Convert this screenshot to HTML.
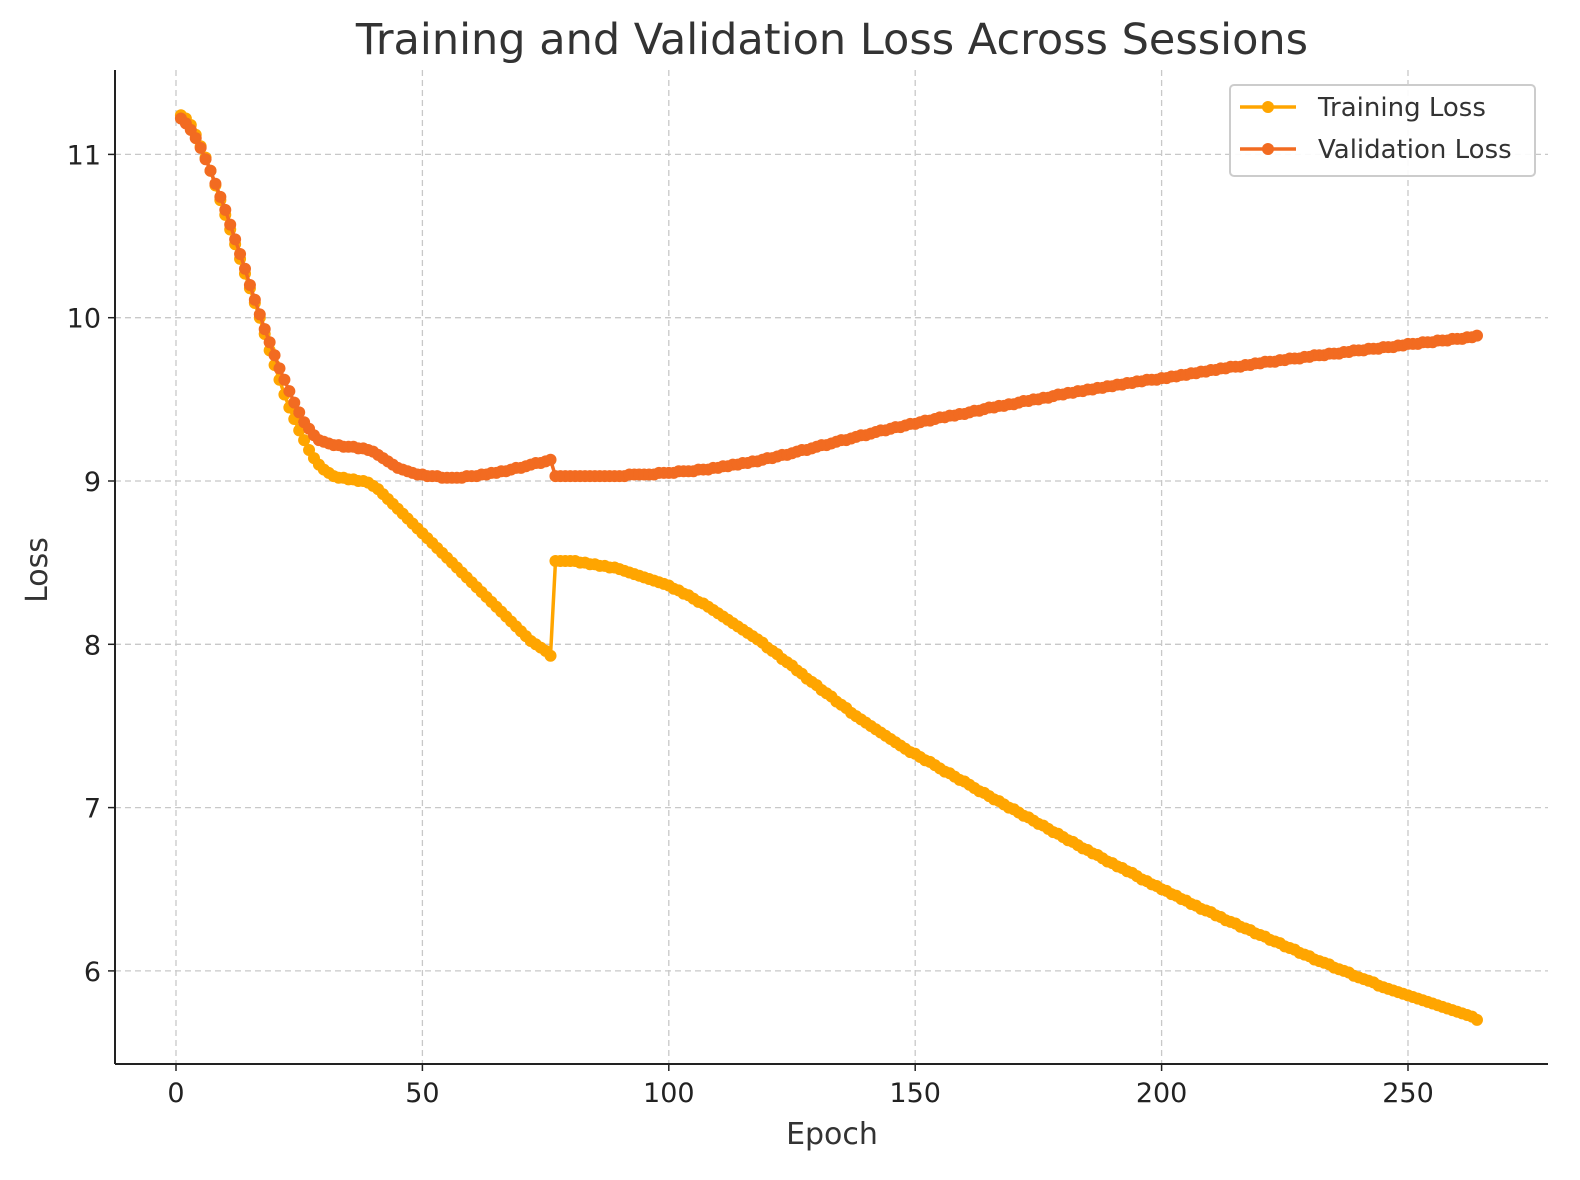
<!DOCTYPE html>
<html><head><meta charset="utf-8"><style>
html,body{margin:0;padding:0;background:#fff;}
svg{display:block;font-family:"DejaVu Sans","Liberation Sans",sans-serif;}
</style></head><body>
<svg id="chart" width="1580" height="1180" viewBox="0 0 1580 1180" xmlns="http://www.w3.org/2000/svg">
<rect width="1580" height="1180" fill="#fff"/>
<text x="832" y="54" text-anchor="middle" font-size="43" fill="#333">Training and Validation Loss Across Sessions</text>
<g id="grid"></g>
<g id="series"></g>
<g id="axes"></g>
<text x="832" y="1144" text-anchor="middle" font-size="30" fill="#333">Epoch</text>
<text transform="translate(47,570) rotate(-90)" text-anchor="middle" font-size="30" fill="#333">Loss</text>
<g>
<rect x="1230" y="85" width="305" height="91" rx="4" fill="#fff" fill-opacity="0.9" stroke="#ccc" stroke-width="2"/>
<g>
<line x1="1240" y1="107" x2="1296" y2="107" stroke="#FFA500" stroke-width="3.5"/>
<circle cx="1268" cy="107" r="6" fill="#FFA500"/>
<text x="1318" y="116" font-size="26" fill="#333">Training Loss</text></g>
<g>
<line x1="1240" y1="149" x2="1296" y2="149" stroke="#F26B21" stroke-width="3.5"/>
<circle cx="1268" cy="149" r="6" fill="#F26B21"/>
<text x="1318" y="158" font-size="26" fill="#333">Validation Loss</text></g>
</g>
</svg>
<script>
const xTicks=[0,50,100,150,200,250];
const yTicks=[6,7,8,9,10,11];
const trainLoss=[
11.24,11.22,11.18,11.12,11.05,10.98,10.9,10.81,10.72,10.63,
10.54,10.45,10.36,10.27,10.18,10.09,10.0,9.9,9.8,9.71,
9.62,9.53,9.45,9.38,9.31,9.25,9.19,9.14,9.1,9.07,
9.05,9.03,9.02,9.02,9.01,9.01,9.0,9.0,8.99,8.97,
8.95,8.92,8.89,8.86,8.83,8.8,8.77,8.74,8.71,8.68,
8.65,8.62,8.59,8.56,8.53,8.5,8.47,8.44,8.41,8.38,
8.35,8.32,8.29,8.26,8.23,8.2,8.17,8.14,8.11,8.08,
8.05,8.02,8.0,7.98,7.96,7.93,
8.51,8.51,8.51,8.51,8.51,8.5,8.5,8.49,8.49,8.48,
8.48,8.47,8.47,8.46,8.45,8.44,8.43,8.42,8.41,8.4,
8.39,8.38,8.37,8.36,8.34,8.33,8.31,8.3,8.28,8.26,
8.25,8.23,8.21,8.19,8.17,8.15,8.13,8.11,8.09,8.07,
8.05,8.03,8.01,7.98,7.96,7.94,7.91,7.89,7.87,7.84,
7.82,7.79,7.77,7.75,7.72,7.7,7.68,7.65,7.63,7.61,
7.58,7.56,7.54,7.52,7.5,7.48,7.46,7.44,7.42,7.4,
7.38,7.36,7.34,7.33,
7.31,7.29,7.28,7.26,7.24,7.22,7.21,7.19,7.17,7.16,
7.14,7.12,7.1,7.09,7.07,7.05,7.04,7.02,7.0,6.99,
6.97,6.95,6.94,6.92,6.9,6.89,6.87,6.85,6.84,6.82,
6.8,6.79,6.77,6.75,6.74,6.72,6.71,6.69,6.67,6.66,
6.64,6.63,6.61,6.6,6.58,6.56,6.55,6.53,6.52,6.5,
6.49,6.47,6.46,6.44,6.43,6.41,6.4,6.38,6.37,6.36,
6.34,6.33,6.31,6.3,6.29,6.27,6.26,6.25,6.23,6.22,
6.21,6.19,6.18,6.17,6.15,6.14,6.13,6.11,6.1,6.09,
6.07,6.06,6.05,6.04,6.02,6.01,6.0,5.99,5.97,5.96,
5.95,5.94,5.93,5.91,5.9,5.89,5.88,5.87,5.86,5.85,
5.84,5.83,5.82,5.81,5.8,5.79,5.78,5.77,5.76,5.75,
5.74,5.73,5.72,5.7];
const valLoss=[
11.22,11.19,11.15,11.1,11.04,10.97,10.9,10.82,10.74,10.66,
10.57,10.48,10.39,10.3,10.2,10.11,10.02,9.93,9.85,9.77,
9.69,9.62,9.55,9.48,9.42,9.36,9.32,9.28,9.25,9.24,
9.23,9.22,9.22,9.21,9.21,9.21,9.2,9.2,9.19,9.18,
9.16,9.14,9.12,9.1,9.08,9.07,9.06,9.05,9.04,9.04,
9.03,9.03,9.03,9.02,9.02,9.02,9.02,9.02,9.03,9.03,
9.03,9.04,9.04,9.05,9.05,9.06,9.06,9.07,9.08,9.08,
9.09,9.1,9.11,9.11,9.12,9.13,
9.03,9.03,9.03,9.03,9.03,9.03,9.03,9.03,9.03,9.03,
9.03,9.03,9.03,9.03,9.03,9.04,9.04,9.04,9.04,9.04,
9.04,9.05,9.05,9.05,9.05,9.06,9.06,9.06,9.06,9.07,
9.07,9.07,9.08,9.08,9.09,9.09,9.1,9.1,9.11,9.11,
9.12,9.12,9.13,9.14,9.14,9.15,9.16,9.16,9.17,9.18,
9.19,9.19,9.2,9.21,9.22,9.22,9.23,9.24,9.25,9.25,
9.26,9.27,9.28,9.28,9.29,9.3,9.31,9.31,9.32,9.33,
9.33,9.34,9.35,9.35,9.36,9.37,9.37,9.38,9.39,9.39,
9.4,9.4,9.41,9.41,9.42,9.43,9.43,9.44,9.45,9.45,
9.46,9.46,9.47,9.47,9.48,9.49,9.49,9.5,9.5,9.51,
9.51,9.52,9.53,9.53,9.54,9.54,9.55,9.55,9.56,9.56,
9.57,9.57,9.58,9.58,9.59,9.59,9.6,9.6,9.61,9.61,
9.62,9.62,9.62,9.63,9.63,9.64,9.64,9.65,9.65,9.66,
9.66,9.67,9.67,9.68,9.68,9.69,9.69,9.7,9.7,9.7,
9.71,9.71,9.72,9.72,9.73,9.73,9.73,9.74,9.74,9.75,
9.75,9.75,9.76,9.76,9.77,9.77,9.77,9.78,9.78,9.78,
9.79,9.79,9.8,9.8,9.8,9.81,9.81,9.81,9.82,9.82,
9.82,9.83,9.83,9.84,9.84,9.84,9.85,9.85,9.85,9.86,
9.86,9.86,9.87,9.87,9.87,9.88,9.88,9.89];

const NS="http://www.w3.org/2000/svg";
const L=115,R=1548,T=70,B=1064;
function xs(v){return 176+(v-0)*4.928;}
function ys(v){return 481-(v-9)*163.3;}
function mk(tag,attrs,parent){const e=document.createElementNS(NS,tag);for(const k in attrs)e.setAttribute(k,attrs[k]);parent.appendChild(e);return e;}
const grid=document.getElementById('grid'),axes=document.getElementById('axes'),ser=document.getElementById('series');
xTicks.forEach(t=>{
  const g=mk('line',{x1:xs(t),x2:xs(t),y1:T,y2:B,stroke:'#c8c8c8','stroke-width':1.3,'stroke-dasharray':'6,4'},grid);
  
  
  const tk=mk('line',{x1:xs(t),x2:xs(t),y1:B,y2:B+7,stroke:'#222','stroke-width':1.5},axes);
  
  
  const lb=mk('text',{x:xs(t),y:B+38,'text-anchor':'middle','font-size':27,fill:'#222'},axes);lb.textContent=t;
  
  
});
yTicks.forEach(t=>{
  const g=mk('line',{x1:L,x2:R,y1:ys(t),y2:ys(t),stroke:'#c8c8c8','stroke-width':1.3,'stroke-dasharray':'6,4'},grid);
  
  
  const tk=mk('line',{x1:L-7,x2:L,y1:ys(t),y2:ys(t),stroke:'#222','stroke-width':1.5},axes);
  
  
  const lb=mk('text',{x:L-14,y:ys(t)+10,'text-anchor':'end','font-size':27,fill:'#222'},axes);lb.textContent=t;
  
  
});
const ax1=mk('line',{x1:L,x2:L,y1:T,y2:B,stroke:'#222','stroke-width':2},axes);


const ax2=mk('line',{x1:L,x2:R,y1:B,y2:B,stroke:'#222','stroke-width':2},axes);


function draw(arr,color,name){
  const g=mk('g',{},ser);
  
  
  const pts=arr.map((v,i)=>xs(i+1).toFixed(1)+','+ys(v).toFixed(1)).join(' ');
  const pl=mk('polyline',{points:pts,fill:'none',stroke:color,'stroke-width':3.5,'stroke-linejoin':'round'},g);
  
  
  arr.forEach((v,i)=>{
    const c=mk('circle',{cx:xs(i+1),cy:ys(v),r:6,fill:color},g);
    
    
  });
}
draw(trainLoss,'#FFA500','training');
draw(valLoss,'#F26B21','validation');
</script>
</body></html>
